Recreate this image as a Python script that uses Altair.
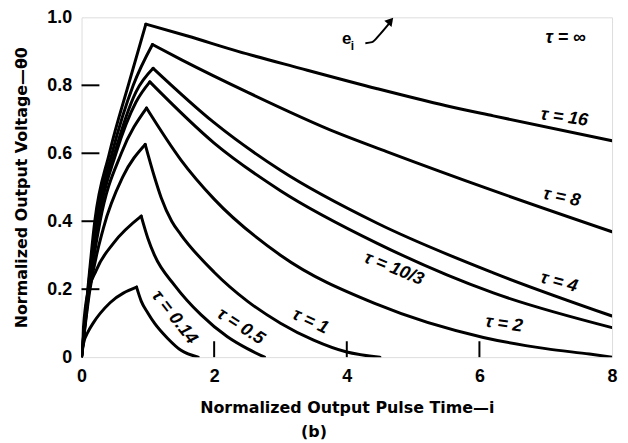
import altair as alt
import pandas as pd

# ---- curve data ----
TAU_NAMES = ["16", "8", "4", "10/3", "2", "1", "0.5", "0.14"]

t16_x = [0, 0.1, 0.2, 0.42, 0.72, 0.97, 1.6, 2.36, 3.3, 4.46, 5.5, 6.21, 8]
t16_y = [0, 0.21, 0.40, 0.60, 0.81, 0.98, 0.945, 0.90, 0.85, 0.79, 0.74, 0.71, 0.637]
t16_peak = 5

t8_x = [0, 0.1, 0.22, 0.46, 0.78, 1.07, 1.51, 2.5, 3.86, 4.6, 6.21, 8]
t8_y = [0, 0.20, 0.40, 0.60, 0.80, 0.92, 0.875, 0.78, 0.66, 0.605, 0.49, 0.369]
t8_peak = 5

t4_x = [0, 0.1, 0.24, 0.5, 0.82, 1.08, 2.0, 3.0, 4.46, 6.21, 8]
t4_y = [0, 0.19, 0.40, 0.60, 0.78, 0.85, 0.69, 0.55, 0.394, 0.248, 0.121]
t4_peak = 5

t103_x = [0, 0.1, 0.25, 0.52, 0.82, 1.03, 2.0, 3.0, 4.46, 6.21, 8]
t103_y = [0, 0.19, 0.40, 0.60, 0.75, 0.81, 0.63, 0.49, 0.335, 0.189, 0.087]
t103_peak = 5

t2_x = [0, 0.11, 0.28, 0.6, 0.98, 1.5, 2.0, 3.0, 4.46, 6.06, 7.0, 7.66, 8]
t2_y = [0, 0.19, 0.40, 0.60, 0.733, 0.58, 0.465, 0.30, 0.155, 0.058, 0.025, 0.009, 0.0]
t2_peak = 4

t1_x = [0, 0.12, 0.33, 0.62, 0.96, 1.1, 1.2, 1.36, 1.5, 2.0, 2.5, 3.0, 3.5, 4.0, 4.5]
t1_y = [0, 0.19, 0.38, 0.53, 0.626, 0.53, 0.47, 0.40, 0.36, 0.25, 0.165, 0.10, 0.05, 0.015, 0.0]
t1_peak = 4

t05_x = [0, 0.03, 0.075, 0.225, 0.48, 0.9, 1.0, 1.1, 1.41, 1.8, 2.2, 2.5, 2.76]
t05_y = [0, 0.09, 0.17, 0.257, 0.335, 0.415, 0.35, 0.30, 0.21, 0.125, 0.06, 0.025, 0.0]
t05_peak = 5

t014_x = [0, 0.03, 0.1, 0.175, 0.43, 0.83, 0.9, 1.0, 1.1, 1.3, 1.5, 1.76]
t014_y = [0, 0.04, 0.075, 0.10, 0.16, 0.206, 0.165, 0.13, 0.10, 0.055, 0.02, 0.0]
t014_peak = 5

# ---- labels ----
label_text = ["τ = ∞", "τ = 16", "τ = 8", "τ = 4", "τ = 10/3", "τ = 2", "τ = 1", "τ = 0.5", "τ = 0.14"]
label_x = [7.3, 7.28, 7.24, 7.2, 4.71, 6.37, 3.45, 2.4, 1.4]
label_y = [0.94, 0.705, 0.47, 0.22, 0.26, 0.097, 0.105, 0.09, 0.117]
label_angle = [0, 8, 12, 15, 22, 8, 25, 33, 52]

# e_i annotation and arrow
ei_x = [4.0]
ei_y = [0.935]
arrow_x = [4.28, 4.38, 4.50, 4.64]
arrow_y = [0.924, 0.927, 0.950, 0.982]
arrow_tip_x = [4.66]
arrow_tip_y = [0.99]

# ticks
x_tick_vals = [2, 4, 6]
y_tick_vals = [0.2, 0.4, 0.6, 0.8]

curves = [
    ("16", t16_x, t16_y, t16_peak),
    ("8", t8_x, t8_y, t8_peak),
    ("4", t4_x, t4_y, t4_peak),
    ("10/3", t103_x, t103_y, t103_peak),
    ("2", t2_x, t2_y, t2_peak),
    ("1", t1_x, t1_y, t1_peak),
    ("0.5", t05_x, t05_y, t05_peak),
    ("0.14", t014_x, t014_y, t014_peak),
]

rows = []
for name, xs, ys, pk in curves:
    for i, (x, y) in enumerate(zip(xs, ys)):
        if i <= pk:
            rows.append({"seg": name + "-rise", "x": x, "y": y, "o": i})
        if i >= pk:
            rows.append({"seg": name + "-decay", "x": x, "y": y, "o": i})
df = pd.DataFrame(rows)

W, H = 534, 342
xscale = alt.Scale(domain=[0, 8], nice=False, zero=False)
yscale = alt.Scale(domain=[0, 1], nice=False, zero=False)

lines = alt.Chart(df).mark_line(
    color="black", strokeWidth=3, interpolate="monotone", strokeCap="round", strokeJoin="miter", clip=True
).encode(
    x=alt.X("x:Q", scale=xscale, axis=alt.Axis(
        values=[0, 2, 4, 6, 8], grid=False, ticks=False, tickSize=0, domain=False,
        labelExpr="format(datum.value, 'd')",
        labelFont="Liberation Sans", labelFontSize=18, labelFontWeight="bold", labelColor="black",
        labelPadding=11, labelFlush=False,
        title="Normalized Output Pulse Time—i", titleFont="DejaVu Sans", titleFontSize=16,
        titleFontWeight="bold", titleColor="black", titlePadding=14)),
    y=alt.Y("y:Q", scale=yscale, axis=alt.Axis(
        values=[0, 0.2, 0.4, 0.6, 0.8, 1.0], grid=False, ticks=False, tickSize=0, domain=False,
        labelExpr="datum.value == 0 ? '0' : format(datum.value, '.1f')",
        labelFont="Liberation Sans", labelFontSize=18, labelFontWeight="bold", labelColor="black",
        labelPadding=10, labelFlush=False,
        title="Normalized Output Voltage—θ0", titleFont="DejaVu Sans", titleFontSize=16,
        titleFontWeight="bold", titleColor="black", titleX=-60, titleY=H / 2,
        titleAngle=270, titleAlign="center", titleBaseline="middle")),
    detail="seg:N",
    order="o:Q",
)

ytick_df = pd.DataFrame({"v": y_tick_vals})
yticks = alt.Chart(ytick_df).mark_rule(color="black", strokeWidth=2).encode(
    y=alt.Y("v:Q", scale=yscale), x=alt.value(0), x2=alt.value(18))

xtick_df = pd.DataFrame({"v": x_tick_vals})
xticks = alt.Chart(xtick_df).mark_rule(color="black", strokeWidth=2).encode(
    x=alt.X("v:Q", scale=xscale), y=alt.value(H), y2=alt.value(H - 16))

lab_df = pd.DataFrame({"x": label_x, "y": label_y, "t": label_text, "a": label_angle})
labels = alt.Chart(lab_df).mark_text(
    font="Liberation Sans", fontSize=18, fontWeight="bold", fontStyle="italic", color="black",
    align="center", baseline="middle"
).encode(
    x=alt.X("x:Q", scale=xscale), y=alt.Y("y:Q", scale=yscale), text="t:N",
    angle=alt.Angle("a:Q", scale=None))

ei_df = pd.DataFrame({"x": ei_x, "y": ei_y})
ei_e = alt.Chart(ei_df).mark_text(
    font="Liberation Sans", fontSize=17, fontWeight="bold", color="black", align="center", baseline="middle"
).encode(x=alt.X("x:Q", scale=xscale), y=alt.Y("y:Q", scale=yscale), text=alt.value("e"))
ei_i = alt.Chart(ei_df).mark_text(
    font="Liberation Sans", fontSize=12, fontWeight="bold", color="black", align="left", baseline="middle",
    dx=4, dy=7
).encode(x=alt.X("x:Q", scale=xscale), y=alt.Y("y:Q", scale=yscale), text=alt.value("i"))

arrow_df = pd.DataFrame({"x": arrow_x, "y": arrow_y, "o": list(range(len(arrow_x)))})
arrow = alt.Chart(arrow_df).mark_line(color="black", strokeWidth=2, interpolate="monotone").encode(
    x=alt.X("x:Q", scale=xscale), y=alt.Y("y:Q", scale=yscale), order="o:Q")
tip_df = pd.DataFrame({"x": arrow_tip_x, "y": arrow_tip_y})
tip = alt.Chart(tip_df).mark_point(shape="triangle-up", filled=True, color="black", size=90, angle=40, opacity=1).encode(
    x=alt.X("x:Q", scale=xscale), y=alt.Y("y:Q", scale=yscale))

chart = alt.layer(lines, yticks, xticks, labels, ei_e, ei_i, arrow, tip).properties(
    width=W, height=H,
    autosize=alt.AutoSizeParams(type="none"),
    padding={"left": 74, "top": 8, "right": 8, "bottom": 85},
    title=alt.TitleParams("(b)", orient="bottom", anchor="middle", dx=-33, offset=8,
                          font="DejaVu Sans", fontSize=16, fontWeight="bold", color="black"),
).configure_view(stroke="black", strokeWidth=2).configure(background="white")

chart.save("out.html", embed_options={"renderer": "svg", "actions": False})
